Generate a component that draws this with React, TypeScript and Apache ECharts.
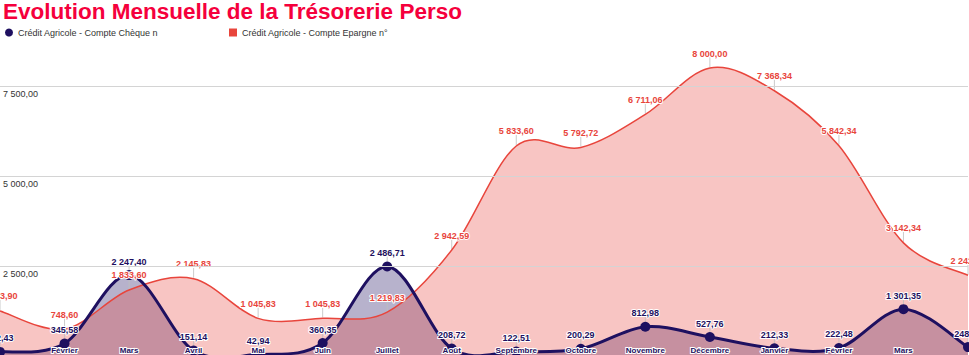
import React, { useEffect, useRef } from "react";
import * as echarts from "echarts";

const categories = [
  "Janvier", "Février", "Mars", "Avril", "Mai", "Juin", "Juillet", "Août",
  "Septembre", "Octobre", "Novembre", "Décembre", "Janvier", "Février", "Mars", "Avril",
];
const chequeValues = [
  112.43, 345.58, 2247.4, 151.14, 42.94, 360.35, 2486.71, 208.72,
  122.51, 200.29, 812.98, 527.76, 212.33, 222.48, 1301.35, 248.12,
];
const epargneValues = [
  1253.9, 748.6, 1833.6, 2145.83, 1045.83, 1045.83, 1219.83, 2942.59,
  5833.6, 5792.72, 6711.06, 8000.0, 7368.34, 5842.34, 3142.34, 2242.34,
];
const chequeName = "Crédit Agricole - Compte Chèque n";
const epargneName = "Crédit Agricole - Compte Epargne n°";
const titleText = "Evolution Mensuelle de la Trésorerie Perso";

const NAVY = "#1e1060";
const RED = "#e8453c";
const FONT = "'Liberation Sans', Arial, sans-serif";

function fmt(v: number): string {
  const [i, d] = v.toFixed(2).split(".");
  return i.replace(/\B(?=(\d{3})+(?!\d))/g, " ") + "," + d;
}

function catmullRom(pts: number[][]): string {
  let d = `M${pts[0][0]},${pts[0][1]}`;
  for (let i = 0; i < pts.length - 1; i++) {
    const p0 = pts[i - 1] || pts[i];
    const p1 = pts[i];
    const p2 = pts[i + 1];
    const p3 = pts[i + 2] || p2;
    const c1x = p1[0] + (p2[0] - p0[0]) / 6;
    const c1y = p1[1] + (p2[1] - p0[1]) / 6;
    const c2x = p2[0] - (p3[0] - p1[0]) / 6;
    const c2y = p2[1] - (p3[1] - p1[1]) / 6;
    d += ` C${c1x},${c1y} ${c2x},${c2y} ${p2[0]},${p2[1]}`;
  }
  return d;
}

function curveSeries(
  id: string,
  values: number[],
  z: number,
  fill: string | null,
  stroke: string | null,
  lineWidth: number,
  guide: [number, number] | null
) {
  return {
    type: "custom",
    name: id,
    data: values.map((v, i) => [i, v]),
    encode: { x: 0, y: 1 },
    silent: true,
    clip: false,
    z,
    renderItem: (params: any, api: any) => {
      if (params.dataIndex !== 0) return null;
      const pts = values.map((v, i) => api.coord([i, v]));
      const base = api.coord([0, 0])[1];
      const curve = catmullRom(pts);
      const children: any[] = [];
      if (fill) {
        const last = pts[pts.length - 1];
        const first = pts[0];
        children.push({
          type: "path",
          shape: { pathData: `${curve} L${last[0]},${base} L${first[0]},${base} Z` },
          style: { fill, stroke: null },
        });
      }
      if (guide) {
        pts.forEach((p) => {
          children.push({
            type: "line",
            shape: { x1: p[0], y1: p[1] - guide[0], x2: p[0], y2: p[1] - guide[1] },
            style: { stroke: "rgba(190,190,190,0.8)", lineWidth: 1 },
          });
        });
      }
      if (stroke) {
        children.push({
          type: "path",
          shape: { pathData: curve },
          style: { fill: null, stroke, lineWidth },
        });
      }
      return { type: "group", children };
    },
  };
}

export default function App() {
  const ref = useRef<HTMLDivElement>(null);
  useEffect(() => {
    if (!ref.current) return;
    const chart = echarts.init(ref.current, undefined, { renderer: "svg" });
    chart.setOption({
      animation: false,
      backgroundColor: "#ffffff",
      textStyle: { fontFamily: FONT },
      title: {
        text: titleText,
        left: 3,
        top: 4,
        padding: [0, 0, 0, 0],
        textStyle: { color: "#f5003c", fontSize: 22.5, fontWeight: "bold", fontFamily: FONT },
      },
      legend: [
        {
          data: [{ name: chequeName, icon: "circle", itemStyle: { color: NAVY } }],
          left: 5,
          top: 32,
          padding: 0,
          itemWidth: 8,
          itemHeight: 8,
          textStyle: { fontSize: 9, color: "#333", fontFamily: FONT },
        },
        {
          data: [{ name: epargneName, icon: "rect", itemStyle: { color: RED } }],
          left: 229,
          top: 32,
          padding: 0,
          itemWidth: 8,
          itemHeight: 8,
          textStyle: { fontSize: 9, color: "#333", fontFamily: FONT },
        },
      ],
      grid: { left: 0, right: 1, top: 0, bottom: 4, containLabel: false },
      xAxis: {
        type: "category",
        data: categories,
        boundaryGap: false,
        axisLine: { show: false },
        axisTick: { show: false },
        splitLine: { show: false },
        axisLabel: {
          inside: true,
          margin: 2,
          interval: (idx: number) => idx !== 0 && idx !== categories.length - 1,
          color: NAVY,
          fontSize: 8,
          fontWeight: "bold",
          fontFamily: FONT,
          textBorderColor: "#ffffff",
          textBorderWidth: 2,
        },
        z: 10,
      },
      yAxis: {
        type: "value",
        min: 0,
        max: 10000,
        interval: 2500,
        axisLine: { show: false },
        axisTick: { show: false },
        splitLine: { show: true, lineStyle: { color: "#d4d4d4", width: 1 } },
        axisLabel: {
          inside: true,
          margin: 3,
          verticalAlign: "top",
          padding: [3, 0, 0, 0],
          color: "#333",
          fontSize: 9,
          fontFamily: FONT,
          formatter: (v: number) => (v >= 10000 || v <= 0 ? "" : fmt(v)),
        },
        z: 10,
      },
      series: [
        curveSeries("_chequeArea", chequeValues, 1, "rgba(30,16,96,0.32)", null, 0, null),
        curveSeries("_epargneCurve", epargneValues, 2, "rgba(232,69,60,0.31)", RED, 1.5, [1, 11]),
        curveSeries("_chequeCurve", chequeValues, 3, null, NAVY, 3, [5, 10]),
        {
          name: chequeName,
          type: "line",
          data: chequeValues,
          symbol: "circle",
          symbolSize: 10,
          itemStyle: { color: NAVY },
          lineStyle: { width: 0, opacity: 0 },
          label: {
            show: true,
            position: "top",
            distance: 4,
            color: NAVY,
            fontSize: 9,
            fontWeight: "bold",
            fontFamily: FONT,
            textBorderColor: "#ffffff",
            textBorderWidth: 2,
            formatter: (p: any) => fmt(p.value),
          },
          z: 4,
        },
        {
          name: epargneName,
          type: "line",
          data: epargneValues,
          symbol: "circle",
          symbolSize: 2,
          itemStyle: { color: "rgba(0,0,0,0)" },
          lineStyle: { width: 0, opacity: 0 },
          label: {
            show: true,
            position: "top",
            distance: 9,
            color: RED,
            fontSize: 9,
            fontWeight: "bold",
            fontFamily: FONT,
            textBorderColor: "#ffffff",
            textBorderWidth: 2,
            formatter: (p: any) => fmt(p.value),
          },
          z: 5,
        },
      ],
    });
    return () => chart.dispose();
  }, []);
  return (
    <div
      ref={ref}
      style={{ position: "fixed", left: 0, top: -4, width: 969, height: 364, background: "#fff" }}
    />
  );
}
